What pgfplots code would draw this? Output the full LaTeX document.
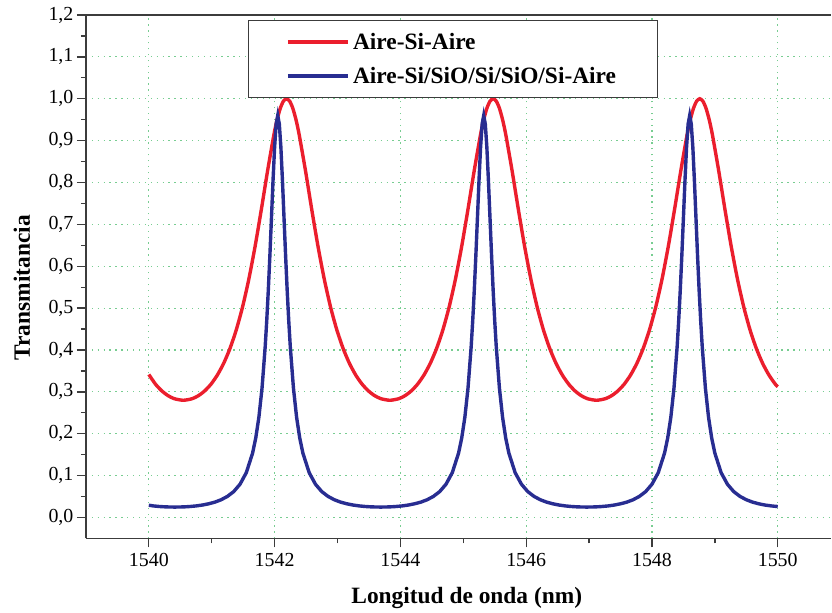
\documentclass[border=0pt]{standalone}
\usepackage{fontspec}
\setmainfont{Liberation Serif}
\usepackage{pgfplots}
\pgfplotsset{compat=1.18}
\definecolor{cred}{RGB}{235,30,45}
\definecolor{cblue}{RGB}{40,45,145}
\definecolor{cgrid}{RGB}{120,205,145}
\definecolor{caxis}{RGB}{60,60,60}
\begin{document}
\begin{tikzpicture}
\begin{axis}[
  scale only axis,
  width=746bp, height=524bp,
  xmin=1539, xmax=1550.85,
  ymin=-0.05, ymax=1.2,
  axis x line*=bottom, axis y line*=left,
  axis line style={caxis, line width=1.6bp},
  xtick={1540,1542,...,1550},
  minor xtick={1541,1543,...,1549},
  ytick={0,0.1,...,1.2},
  minor ytick={0.05,0.15,...,1.15},
  tick align=outside,
  major tick length=9bp, minor tick length=5bp,
  every tick/.style={caxis, line width=1.3bp},
  grid=major,
  major grid style={cgrid, line width=1.1bp, dash pattern=on 1.3bp off 4.6bp},
  /pgf/number format/assume math mode=true,
  ticklabel style={font=\rmfamily\fontsize{20}{24}\selectfont},
  xticklabel style={/pgf/number format/1000 sep={}, yshift=-2bp},
  yticklabel style={/pgf/number format/.cd, fixed, fixed zerofill, precision=1, use comma},
  xlabel={Longitud de onda (nm)},
  ylabel={Transmitancia},
  label style={font=\rmfamily\bfseries\fontsize{23.5}{27}\selectfont},
  xlabel style={at={(axis description cs:0.511,-0.1145)}, anchor=center},
  ylabel style={at={(axis description cs:-0.0858,0.479)}, anchor=center, rotate=0},
  legend style={at={(0.217,0.990)}, anchor=north west, draw=caxis, line width=1.2bp,
    font=\rmfamily\bfseries\fontsize{23.5}{27}\selectfont, inner xsep=38bp, inner ysep=9bp,
    row sep=9bp, nodes={inner sep=3.5bp}},
  legend cell align=left,
  legend image code/.code={\draw[#1] (0bp,0bp) -- (60bp,0bp);},
  clip mode=individual,
]
\addplot[cred, line width=3.4bp, smooth, tension=0.4] coordinates {
(1540.000,0.3416)(1540.105,0.3187)(1540.205,0.3026)(1540.305,0.2911)(1540.405,0.2838)(1540.548,0.2800)
(1540.690,0.2838)(1540.790,0.2911)(1540.890,0.3026)(1540.990,0.3187)(1541.090,0.3403)(1541.190,0.3681)(1541.290,0.4035)(1541.390,0.4478)(1541.490,0.5025)(1541.590,0.5690)(1541.690,0.6476)(1541.790,0.7363)(1541.890,0.8292)(1541.990,0.9150)(1542.040,0.9501)(1542.090,0.9771)(1542.140,0.9942)(1542.190,1.0000)
(1542.240,0.9942)(1542.290,0.9771)(1542.340,0.9501)(1542.390,0.9150)(1542.490,0.8292)(1542.590,0.7363)(1542.690,0.6476)(1542.790,0.5690)(1542.890,0.5025)(1542.990,0.4478)(1543.090,0.4035)(1543.190,0.3681)(1543.290,0.3403)(1543.390,0.3187)(1543.490,0.3026)(1543.590,0.2911)(1543.690,0.2838)(1543.833,0.2800)
(1543.975,0.2838)(1544.075,0.2911)(1544.175,0.3026)(1544.275,0.3187)(1544.375,0.3403)(1544.475,0.3681)(1544.575,0.4035)(1544.675,0.4478)(1544.775,0.5025)(1544.875,0.5690)(1544.975,0.6476)(1545.075,0.7363)(1545.175,0.8292)(1545.275,0.9150)(1545.325,0.9501)(1545.375,0.9771)(1545.425,0.9942)(1545.475,1.0000)
(1545.525,0.9942)(1545.575,0.9771)(1545.625,0.9501)(1545.675,0.9150)(1545.775,0.8292)(1545.875,0.7363)(1545.975,0.6476)(1546.075,0.5690)(1546.175,0.5025)(1546.275,0.4478)(1546.375,0.4035)(1546.475,0.3681)(1546.575,0.3403)(1546.675,0.3187)(1546.775,0.3026)(1546.875,0.2911)(1546.975,0.2838)(1547.118,0.2800)
(1547.260,0.2838)(1547.360,0.2911)(1547.460,0.3026)(1547.560,0.3187)(1547.660,0.3403)(1547.760,0.3681)(1547.860,0.4035)(1547.960,0.4478)(1548.060,0.5025)(1548.160,0.5690)(1548.260,0.6476)(1548.360,0.7363)(1548.460,0.8292)(1548.560,0.9150)(1548.610,0.9501)(1548.660,0.9771)(1548.710,0.9942)(1548.760,1.0000)
(1548.810,0.9942)(1548.860,0.9771)(1548.910,0.9501)(1548.960,0.9150)(1549.060,0.8292)(1549.160,0.7363)(1549.260,0.6476)(1549.360,0.5690)(1549.460,0.5025)(1549.560,0.4478)(1549.660,0.4035)(1549.760,0.3681)(1549.860,0.3403)(1549.960,0.3187)(1550.000,0.3123)
};
\addlegendentry{Aire-Si-Aire}
\addplot[cblue, line width=3.4bp] coordinates {
(1540.000,0.0294)(1540.075,0.0277)(1540.175,0.0263)(1540.275,0.0254)(1540.413,0.0250)
(1540.550,0.0254)(1540.650,0.0263)(1540.750,0.0277)(1540.850,0.0298)(1540.950,0.0328)(1541.050,0.0368)(1541.150,0.0425)(1541.250,0.0505)(1541.350,0.0620)(1541.450,0.0795)(1541.550,0.1071)(1541.650,0.1538)(1541.700,0.1897)(1541.750,0.2392)(1541.800,0.3087)(1541.850,0.4068)(1541.875,0.4697)(1541.900,0.5427)(1541.925,0.6253)(1541.950,0.7148)(1541.975,0.8045)(1542.000,0.8840)(1542.025,0.9398)(1542.050,0.9600)
(1542.075,0.9398)(1542.100,0.8840)(1542.125,0.8045)(1542.150,0.7148)(1542.175,0.6253)(1542.200,0.5427)(1542.225,0.4697)(1542.250,0.4068)(1542.300,0.3087)(1542.350,0.2392)(1542.400,0.1897)(1542.450,0.1538)(1542.550,0.1071)(1542.650,0.0795)(1542.750,0.0620)(1542.850,0.0505)(1542.950,0.0425)(1543.050,0.0368)(1543.150,0.0328)(1543.250,0.0298)(1543.350,0.0277)(1543.450,0.0263)(1543.550,0.0254)(1543.688,0.0250)
(1543.825,0.0254)(1543.925,0.0263)(1544.025,0.0277)(1544.125,0.0298)(1544.225,0.0328)(1544.325,0.0368)(1544.425,0.0425)(1544.525,0.0505)(1544.625,0.0620)(1544.725,0.0795)(1544.825,0.1071)(1544.925,0.1538)(1544.975,0.1897)(1545.025,0.2392)(1545.075,0.3087)(1545.125,0.4068)(1545.150,0.4697)(1545.175,0.5427)(1545.200,0.6253)(1545.225,0.7148)(1545.250,0.8045)(1545.275,0.8840)(1545.300,0.9398)(1545.325,0.9600)
(1545.350,0.9398)(1545.375,0.8840)(1545.400,0.8045)(1545.425,0.7148)(1545.450,0.6253)(1545.475,0.5427)(1545.500,0.4697)(1545.525,0.4068)(1545.575,0.3087)(1545.625,0.2392)(1545.675,0.1897)(1545.725,0.1538)(1545.825,0.1071)(1545.925,0.0795)(1546.025,0.0620)(1546.125,0.0505)(1546.225,0.0425)(1546.325,0.0368)(1546.425,0.0328)(1546.525,0.0298)(1546.625,0.0277)(1546.725,0.0263)(1546.825,0.0254)(1546.963,0.0250)
(1547.100,0.0254)(1547.200,0.0263)(1547.300,0.0277)(1547.400,0.0298)(1547.500,0.0328)(1547.600,0.0368)(1547.700,0.0425)(1547.800,0.0505)(1547.900,0.0620)(1548.000,0.0795)(1548.100,0.1071)(1548.200,0.1538)(1548.250,0.1897)(1548.300,0.2392)(1548.350,0.3087)(1548.400,0.4068)(1548.425,0.4697)(1548.450,0.5427)(1548.475,0.6253)(1548.500,0.7148)(1548.525,0.8045)(1548.550,0.8840)(1548.575,0.9398)(1548.600,0.9600)
(1548.625,0.9398)(1548.650,0.8840)(1548.675,0.8045)(1548.700,0.7148)(1548.725,0.6253)(1548.750,0.5427)(1548.775,0.4697)(1548.800,0.4068)(1548.850,0.3087)(1548.900,0.2392)(1548.950,0.1897)(1549.000,0.1538)(1549.100,0.1071)(1549.200,0.0795)(1549.300,0.0620)(1549.400,0.0505)(1549.500,0.0425)(1549.600,0.0368)(1549.700,0.0328)(1549.800,0.0298)(1549.900,0.0277)(1550.000,0.0263)
};
\addlegendentry{Aire-Si/SiO/Si/SiO/Si-Aire}
\end{axis}
\draw[caxis, line width=1.6bp] (current axis.north west) -- (current axis.north east);
\path (current axis.south west) ++(-86bp,-74bp) coordinate (bbA);
\path (current axis.north east) ++(0bp,15bp) coordinate (bbB);
\end{tikzpicture}
\end{document}
